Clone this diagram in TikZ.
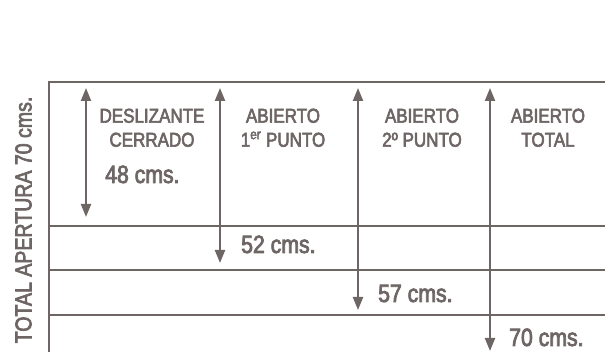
\documentclass[tikz,border=0pt]{standalone}
\usepackage{fontspec}
\setmainfont{Liberation Sans}
\newfontfamily\narrowfont[FakeStretch=0.85,FakeBold=3]{Liberation Sans}
\usetikzlibrary{arrows.meta}
\definecolor{taupe}{RGB}{110,101,101}

\begin{document}
\begin{tikzpicture}[x=1pt,y=-1pt,
		medida/.style={line width=2.2pt,draw=taupe,{Triangle[length=13pt,width=10pt]}-{Triangle[length=13pt,width=10pt]}},
		linea/.style={draw=taupe,line width=2.6pt},
		etiqueta/.style={text=taupe,font=\narrowfont\fontsize{20}{24}\selectfont,align=center,inner sep=0pt,anchor=north},
		cota/.style={text=taupe,font=\narrowfont\fontsize{25}{28}\selectfont,inner sep=0pt,anchor=base west}]
				\useasboundingbox (0,0) rectangle (605,352);
				\def\izq{49};
				\def\der{610};
				% marco y filas
				\draw[linea] (\der,82) -- (\izq,82) -- (\izq,360);
				\foreach \fila in {226,270,315}
					\draw[linea] (\izq,\fila) -- (\der,\fila);
				% cotas verticales
				\coordinate (cerradoA) at (86,88);
				\coordinate (cerradoB) at (86,217);
				\coordinate (primeroA) at (220,88);
				\coordinate (primeroB) at (220,263);
				\coordinate (segundoA) at (358,88);
				\coordinate (segundoB) at (358,310);
				\coordinate (totalA) at (490,88);
				\coordinate (totalB) at (490,351);
				\draw[medida] (cerradoA) -- (cerradoB);
				\draw[medida] (primeroA) -- (primeroB);
				\draw[medida] (segundoA) -- (segundoB);
				\draw[medida] (totalA) -- (totalB);
				% textos
				\node[etiqueta] (deslizante) at (152,108.5) {DESLIZANTE\\CERRADO};
				\node[etiqueta] (abierto1) at (283,108.5) {ABIERTO\\1\textsuperscript{er} PUNTO};
				\node[etiqueta] (abierto2) at (422,108.5) {ABIERTO\\2º PUNTO};
				\node[etiqueta] (abiertoT) at (548,108.5) {ABIERTO\\TOTAL};
				\node[cota] (c48) at (105,183) {48 cms.};
				\node[cota] (c52) at (241,253) {52 cms.};
				\node[cota] (c57) at (378,302) {57 cms.};
				\node[cota] (c70) at (509,346) {70 cms.};
				\node[text=taupe,font=\narrowfont\fontsize{23}{26}\selectfont,inner sep=0pt,rotate=90] (apertura) at (23.5,220) {TOTAL APERTURA 70 cms.};
			\end{tikzpicture}
\end{document}
